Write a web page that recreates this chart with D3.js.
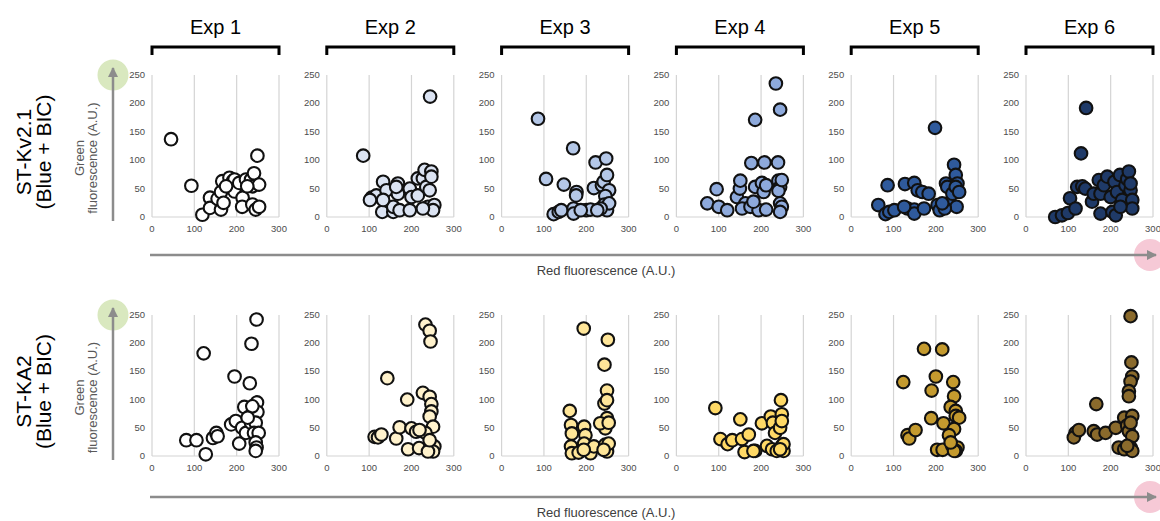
<!DOCTYPE html>
<html>
<head>
<meta charset="utf-8">
<script src="https://cdn.jsdelivr.net/npm/d3@7"></script>
<style>
  body { margin: 0; background: #fff; }
  svg { display: block; font-family: "Liberation Sans", Arial, sans-serif; }
</style>
</head>
<body>
<div id="chart"></div>
<script>
// ---- data ----
const experiments = ["Exp 1", "Exp 2", "Exp 3", "Exp 4", "Exp 5", "Exp 6"];
const rowLabels = [["ST-Kv2.1", "(Blue + BIC)"], ["ST-KA2", "(Blue + BIC)"]];
const xTicks = [0, 100, 200, 300];
const yTicks = [0, 50, 100, 150, 200, 250];

const kvColors = ["#ffffff", "#dbe3f2", "#b4c7e7", "#8eaadc", "#2f5a9c", "#1f3a68"];
const kaColors = ["#ffffff", "#fff2cc", "#ffe699", "#ffd966", "#c49a2e", "#8a6a2c"];

// [red, green] per cell
const kv1 = [[45,137],[93,55],[119,4],[137,34],[137,16],[155,32],[163,44],[163,13],[166,63],[169,25],
  [183,69],[191,63],[195,45],[195,66],[206,60],[214,34],[213,18],[222,66],[234,66],[237,54],
  [241,77],[249,108],[237,22],[245,13],[253,57],[253,18],[175,54],[225,54]];
const kv2 = [[86,108],[244,212],[106,34],[117,38],[133,62],[141,47],[131,9],[157,9],[157,18],[168,59],
  [168,41],[164,53],[172,12],[196,50],[200,35],[196,12],[215,38],[215,68],[227,68],[231,83],
  [235,53],[239,18],[247,80],[247,71],[243,47],[254,21],[251,12],[227,15],[133,30],[102,30]];
const kv3 = [[86,173],[105,67],[147,57],[169,121],[177,44],[123,5],[135,9],[141,12],[170,15],[170,6],
  [200,12],[210,13],[218,51],[222,96],[237,56],[241,62],[247,103],[249,74],[254,47],[245,37],
  [243,22],[249,12],[254,24],[234,15],[226,12],[187,12],[176,38]];
const kv4 = [[235,235],[245,189],[186,171],[177,95],[208,96],[240,96],[95,49],[73,24],[100,18],[120,12],
  [143,35],[150,50],[151,64],[163,24],[155,15],[175,18],[186,53],[202,60],[206,44],[212,56],
  [194,12],[212,13],[241,64],[245,53],[241,46],[245,24],[249,18],[245,9],[249,65],[182,27]];
const kv5 = [[198,157],[86,56],[64,21],[81,5],[90,9],[102,12],[127,58],[149,60],[157,47],[168,44],
  [183,41],[133,15],[149,13],[149,6],[172,15],[204,21],[209,12],[224,59],[227,53],[231,24],
  [239,41],[243,92],[247,74],[251,59],[247,53],[255,44],[249,18],[221,15],[215,24],[125,18]];
const kv6 = [[142,192],[130,112],[69,0],[85,3],[99,7],[104,33],[117,15],[121,53],[133,54],[140,50],
  [156,27],[160,41],[172,65],[176,6],[176,41],[184,56],[192,71],[200,35],[204,9],[212,3],
  [209,62],[215,44],[222,74],[227,30],[235,56],[239,67],[243,80],[247,47],[251,30],[251,15],
  [223,18],[247,59]];

const ka1 = [[247,242],[235,199],[122,182],[195,141],[231,129],[248,95],[218,87],[81,28],[105,28],[127,3],
  [144,32],[152,41],[155,35],[187,56],[198,62],[206,22],[213,50],[222,41],[234,59],[237,76],
  [249,78],[245,59],[241,41],[252,41],[245,24],[247,15],[245,9],[237,88],[226,68]];
const ka2 = [[233,233],[243,222],[245,203],[143,138],[190,100],[227,112],[243,105],[247,92],[247,79],[243,70],
  [251,52],[113,34],[121,33],[129,38],[164,31],[172,51],[200,49],[192,12],[218,14],[211,43],
  [233,41],[245,17],[254,17],[251,8],[239,8],[243,28],[219,46]];
const ka3 = [[194,226],[251,206],[243,162],[249,116],[243,93],[249,99],[249,67],[245,49],[233,58],[253,59],
  [161,80],[164,55],[166,40],[164,17],[166,5],[182,6],[195,52],[198,37],[195,22],[210,5],
  [218,17],[245,20],[249,8],[253,22],[241,11],[194,11]];
const ka4 = [[92,85],[151,65],[247,99],[104,30],[121,21],[132,28],[155,30],[171,38],[161,7],[186,9],
  [182,9],[202,58],[223,70],[228,59],[233,41],[249,74],[245,50],[249,62],[214,18],[226,12],
  [237,9],[249,18],[253,9],[253,21],[245,12]];
const ka5 = [[172,190],[215,189],[123,131],[200,141],[190,116],[189,67],[241,131],[243,106],[235,87],[247,80],
  [247,71],[255,68],[218,58],[243,48],[231,37],[133,37],[137,31],[152,46],[203,11],[216,11],
  [239,18],[251,15],[247,9],[243,9],[235,24]];
const ka6 = [[247,248],[249,166],[251,141],[247,132],[243,115],[243,106],[166,92],[117,41],[113,33],[125,46],
  [160,44],[168,38],[188,41],[212,50],[232,68],[251,71],[239,54],[243,44],[251,35],[219,15],
  [232,12],[247,15],[251,9],[239,18],[247,59]];

const rowData = [[kv1, kv2, kv3, kv4, kv5, kv6], [ka1, ka2, ka3, ka4, ka5, ka6]];
const rowColors = [kvColors, kaColors];

// ---- layout ----
const width = 1160, height = 521;
const panelLeft = 152, panelStep = 174.8, panelW = 127;
const rowTop = [75, 315], rowBottom = [217, 456];
const redArrowY = [255, 497];

const svg = d3.select("#chart").append("svg")
  .attr("width", width).attr("height", height);

svg.append("defs").append("marker")
  .attr("id", "arrow")
  .attr("viewBox", "0 0 10 10")
  .attr("refX", 9).attr("refY", 5)
  .attr("markerWidth", 4).attr("markerHeight", 4)
  .attr("orient", "auto")
  .append("path")
  .attr("d", "M0,0 L10,5 L0,10 z")
  .attr("fill", "#8c8c8c");

// experiment headers + brackets
experiments.forEach((name, i) => {
  const x0 = panelLeft + i * panelStep;
  svg.append("text")
    .attr("x", x0 + panelW / 2).attr("y", 34)
    .attr("text-anchor", "middle")
    .attr("font-size", 20)
    .attr("fill", "#000")
    .text(name);
  svg.append("path")
    .attr("d", `M${x0},55 V47 H${x0 + panelW} V55`)
    .attr("fill", "none")
    .attr("stroke", "#000")
    .attr("stroke-width", 3);
});

rowData.forEach((panels, r) => {
  const yScale = d3.scaleLinear().domain([0, 250]).range([rowBottom[r], rowTop[r]]);
  const midY = (rowTop[r] + rowBottom[r]) / 2;

  // row label
  const rl = svg.append("text")
    .attr("transform", `translate(33, ${midY + 6}) rotate(-90)`)
    .attr("text-anchor", "middle")
    .attr("font-size", 21)
    .attr("fill", "#000");
  rl.append("tspan").attr("x", 0).attr("dy", "-0.1em").text(rowLabels[r][0]);
  rl.append("tspan").attr("x", 0).attr("dy", "0.95em").text(rowLabels[r][1]);

  // green axis title
  const gl = svg.append("text")
    .attr("transform", `translate(86, ${midY + 12}) rotate(-90)`)
    .attr("text-anchor", "middle")
    .attr("font-size", 13)
    .attr("fill", "#595959");
  gl.append("tspan").attr("x", 0).attr("dy", "-0.15em").text("Green");
  gl.append("tspan").attr("x", 0).attr("dy", "1.0em").text("fluorescence (A.U.)");

  // green arrow
  svg.append("circle")
    .attr("cx", 113).attr("cy", rowTop[r])
    .attr("r", 15.5)
    .attr("fill", "#d9e8bf");
  svg.append("line")
    .attr("x1", 113).attr("x2", 113)
    .attr("y1", rowBottom[r] + 4).attr("y2", rowTop[r] - 7)
    .attr("stroke", "#8c8c8c")
    .attr("stroke-width", 2.5)
    .attr("marker-end", "url(#arrow)");

  // red arrow
  svg.append("circle")
    .attr("cx", 1150).attr("cy", redArrowY[r])
    .attr("r", 16)
    .attr("fill", "#f6c9d6");
  svg.append("line")
    .attr("x1", 150).attr("x2", 1156)
    .attr("y1", redArrowY[r]).attr("y2", redArrowY[r])
    .attr("stroke", "#8c8c8c")
    .attr("stroke-width", 2.5)
    .attr("marker-end", "url(#arrow)");
  svg.append("text")
    .attr("x", 606).attr("y", redArrowY[r] + 20)
    .attr("text-anchor", "middle")
    .attr("font-size", 13)
    .attr("fill", "#404040")
    .text("Red fluorescence (A.U.)");

  panels.forEach((pts, i) => {
    const x0 = panelLeft + i * panelStep;
    const xScale = d3.scaleLinear().domain([0, 300]).range([x0, x0 + panelW]);
    const g = svg.append("g");

    // vertical grid lines
    g.selectAll(".grid")
      .data(xTicks)
      .join("line")
      .attr("x1", d => xScale(d)).attr("x2", d => xScale(d))
      .attr("y1", yScale(0)).attr("y2", yScale(250))
      .attr("stroke", "#d4d4d4")
      .attr("stroke-width", 1.2);
    g.append("line")
      .attr("x1", xScale(0)).attr("x2", xScale(300))
      .attr("y1", yScale(0)).attr("y2", yScale(0))
      .attr("stroke", "#d4d4d4")
      .attr("stroke-width", 1.2);

    // tick labels
    g.selectAll(".xt")
      .data(xTicks)
      .join("text")
      .attr("x", d => xScale(d)).attr("y", yScale(0) + 15)
      .attr("text-anchor", "middle")
      .attr("font-size", 9.5)
      .attr("fill", "#4d4d4d")
      .text(d => d);
    g.selectAll(".yt")
      .data(yTicks)
      .join("text")
      .attr("x", xScale(0) - 7).attr("y", d => yScale(d) + 3)
      .attr("text-anchor", "end")
      .attr("font-size", 9.5)
      .attr("fill", "#4d4d4d")
      .text(d => d);

    // points
    g.selectAll(".pt")
      .data(pts)
      .join("circle")
      .attr("cx", d => xScale(d[0]))
      .attr("cy", d => yScale(d[1]))
      .attr("r", 6.3)
      .attr("fill", rowColors[r][i])
      .attr("stroke", "#111")
      .attr("stroke-width", 2.1);
  });
});
</script>
</body>
</html>
